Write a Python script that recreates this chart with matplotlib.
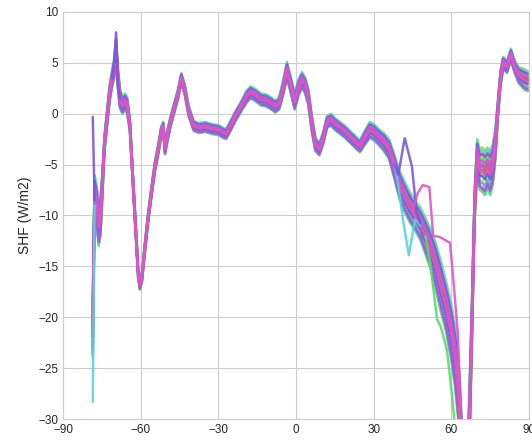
import numpy as np
import matplotlib
matplotlib.use("Agg")
import matplotlib.pyplot as plt
import seaborn as sns

# ensemble of zonal-mean surface heat flux curves

lat = [-78.5, -77.8, -77.0, -76.2, -75.5, -74.8, -74.0, -73.0, -72.0, -71.0,
       -70.2, -69.5, -68.8, -68.0, -67.0, -66.0, -65.2, -64.2, -63.0, -62.0,
       -61.0, -60.3, -59.5, -58.5, -57.2, -56.0, -54.5, -53.2, -52.1, -51.3,
       -50.6, -49.7, -48.5, -47.0, -45.5, -44.3, -43.0, -41.5, -39.5, -37.5,
       -35.0, -32.5, -30.0, -28.0, -27.0, -25.5, -23.5, -21.0, -19.0, -17.5,
       -15.5, -13.5, -11.5, -9.5, -8.0, -6.5, -5.0, -3.5, -2.0, -0.5,
       1.0, 2.3, 3.5, 4.8, 6.0, 7.5, 9.0, 10.5, 12.0, 13.5,
       15.0, 17.0, 19.0, 21.0, 23.0, 24.7, 26.5, 28.5, 30.0, 32.0,
       34.0, 36.0, 38.0, 40.0, 42.0, 44.0, 46.0, 48.0, 50.0, 52.0,
       54.0, 56.0, 58.0, 60.0, 61.5, 63.0, 64.0, 65.0, 66.0, 67.0,
       68.0, 69.0, 70.0, 71.0, 72.0, 73.0, 74.0, 75.0, 76.0, 77.0,
       78.0, 79.0, 80.0, 81.5, 83.0, 84.5, 86.0, 88.0, 89.5]

shf_mean = [-21.0, -8.0, -9.0, -11.0, -10.0, -7.0, -3.0, -0.5, 2.0, 3.5,
            4.5, 6.5, 3.5, 1.5, 0.8, 1.2, 0.8, -1.0, -6.5, -11.0,
            -15.5, -16.8, -16.0, -13.5, -10.4, -8.0, -5.2, -3.5, -1.8, -1.3,
            -3.4, -2.2, -0.8, 0.6, 2.0, 3.5, 2.4, 0.3, -1.2, -1.4,
            -1.3, -1.5, -1.6, -1.9, -2.0, -1.3, -0.3, 0.8, 1.7, 2.1,
            1.8, 1.4, 1.3, 1.0, 0.7, 1.0, 2.5, 4.3, 2.8, 1.2,
            2.6, 3.3, 2.8, 1.6, -0.8, -3.0, -3.5, -2.4, -0.8, -0.6,
            -1.0, -1.4, -1.8, -2.3, -2.8, -3.2, -2.4, -1.6, -1.8, -2.3,
            -2.8, -3.5, -5.2, -7.0, -8.2, -9.2, -10.0, -10.8, -12.0, -13.3,
            -15.0, -17.0, -19.0, -21.5, -24.0, -28.0, -33.0, -38.0, -38.0, -30.0,
            -20.0, -9.0, -4.0, -5.5, -5.5, -5.8, -5.3, -5.8, -5.0, -3.0,
            0.5, 3.5, 5.0, 4.6, 5.8, 4.6, 3.8, 3.4, 3.2]

shf_spread = [3.0, 2.0, 2.0, 2.0, 2.0, 1.2, 0.8, 0.8, 0.8, 0.8,
              1.0, 1.0, 1.0, 1.0, 0.8, 0.8, 0.8, 0.6, 0.6, 0.6,
              0.6, 0.5, 0.5, 0.5, 0.5, 0.5, 0.5, 0.5, 0.5, 0.5,
              0.6, 0.6, 0.5, 0.5, 0.5, 0.5, 0.5, 0.5, 0.5, 0.5,
              0.5, 0.5, 0.5, 0.5, 0.5, 0.5, 0.5, 0.5, 0.6, 0.6,
              0.6, 0.6, 0.6, 0.6, 0.6, 0.6, 0.7, 0.8, 0.8, 0.8,
              0.8, 0.8, 0.8, 0.8, 0.8, 0.7, 0.6, 0.6, 0.6, 0.6,
              0.6, 0.6, 0.6, 0.6, 0.6, 0.6, 0.7, 0.8, 0.8, 0.8,
              0.9, 1.0, 1.2, 1.4, 1.5, 1.5, 1.5, 1.6, 1.8, 2.0,
              2.3, 2.5, 2.5, 2.8, 3.0, 3.0, 3.0, 3.0, 3.0, 3.0,
              2.0, 1.5, 1.5, 2.0, 2.2, 2.2, 2.0, 2.2, 2.0, 1.5,
              0.8, 0.8, 0.6, 0.6, 0.6, 0.6, 0.8, 1.0, 1.0]

# where each member sits inside the spread (-1 low, +1 high)
member_pos = [-0.9, 0.3, 0.8, -0.5, 0.6, 1.0, -0.2, 0.5, -1.0, 0.1,
              0.9, -0.6, 0.2, -0.3, 0.7, -0.8, 0.4, -0.1, 0.15, 0.0]

# members that break away from the rest
purple_start_lat = [-78.5, -77.8]
purple_start_shf = [-0.3, -8.5]
cyan_start_lat = [-78.5, -77.8]
cyan_start_shf = [-28.3, -9.0]
purple_spike_lat = [-71.0, -70.2, -69.5, -68.8, -68.0]
purple_spike_shf = [3.5, 5.0, 8.0, 3.0, 1.5]
purple_45_lat = [38.0, 39.5, 42.0, 44.8, 46.5, 48.0]
purple_45_shf = [-5.0, -6.0, -2.4, -5.2, -9.5, -10.8]
cyan_dip_lat = [38.0, 39.5, 41.3, 43.6, 46.0, 48.0]
cyan_dip_shf = [-5.0, -7.0, -10.4, -13.9, -10.4, -11.0]
magenta_hi_lat = [45.0, 47.0, 49.0, 51.5, 53.0, 55.5, 59.5, 60.5, 62.5, 64.0]
magenta_hi_shf = [-9.6, -7.8, -7.0, -7.2, -12.0, -12.1, -12.7, -15.5, -21.5, -31.0]
green_lo_lat = [50.0, 52.0, 54.5, 56.0, 58.3, 60.0, 61.5]
green_lo_shf = [-12.0, -15.0, -20.2, -21.0, -23.2, -27.0, -31.0]


def main():
    sns.set_style("whitegrid")
    plt.rcParams["font.family"] = ["Liberation Sans", "DejaVu Sans"]

    fig = plt.figure(figsize=(5.32, 4.44), dpi=100)
    ax = fig.add_axes([63 / 532, 25 / 444, 466 / 532, 407 / 444])

    n = len(member_pos)
    pal = sns.color_palette("hls", n)
    x = np.array(lat)
    mean = np.array(shf_mean)
    spread = np.array(shf_spread)

    # magenta members end up on top, as in the original
    order = [i for i in range(n) if i not in (16, 17)] + [16, 17]
    for i in order:
        ax.plot(x, mean + member_pos[i] * spread, color=pal[i], lw=1.75, alpha=0.9)

    outliers = [
        (cyan_start_lat, cyan_start_shf, 10),
        (purple_start_lat, purple_start_shf, 14),
        (green_lo_lat, green_lo_shf, 7),
        (cyan_dip_lat, cyan_dip_shf, 10),
        (purple_45_lat, purple_45_shf, 14),
        (magenta_hi_lat, magenta_hi_shf, 17),
        (purple_spike_lat, purple_spike_shf, 14),
    ]
    for lx, ly, ci in outliers:
        ax.plot(lx, ly, color=pal[ci], lw=1.75, alpha=0.9)

    ax.set_xlim(-90, 90)
    ax.set_ylim(-30, 10)
    ax.set_xticks(range(-90, 91, 30))
    ax.set_yticks(range(-30, 11, 5))
    ax.tick_params(labelsize=8.5, colors=".15", length=0)
    ax.set_ylabel("SHF (W/m2)", fontsize=10, color=".15")

    fig.savefig("out.png", dpi=100)


if __name__ == "__main__":
    main()
